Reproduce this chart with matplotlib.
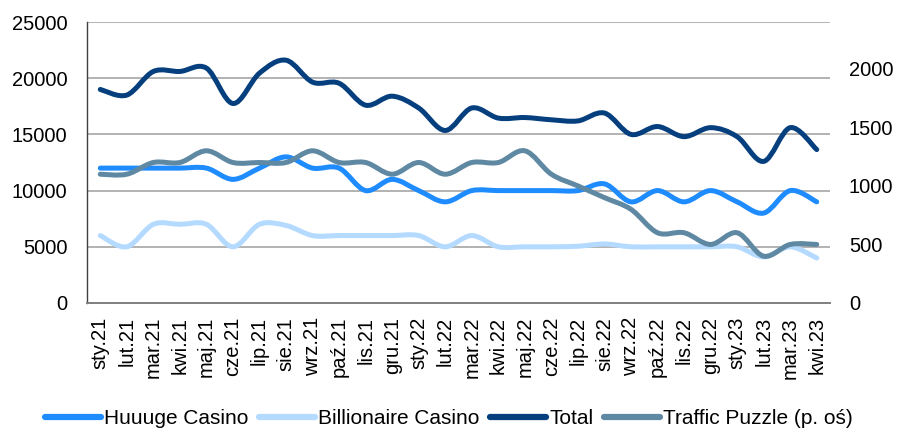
import matplotlib
matplotlib.use("Agg")
import matplotlib.pyplot as plt
import numpy as np
from matplotlib.path import Path
from matplotlib.patches import PathPatch
from matplotlib.lines import Line2D

plt.rcParams['font.family'] = ['Liberation Sans', 'DejaVu Sans']

months = ["sty.21", "lut.21", "mar.21", "kwi.21", "maj.21", "cze.21", "lip.21", "sie.21",
          "wrz.21", "paź.21", "lis.21", "gru.21", "sty.22", "lut.22", "mar.22", "kwi.22",
          "maj.22", "cze.22", "lip.22", "sie.22", "wrz.22", "paź.22", "lis.22", "gru.22",
          "sty.23", "lut.23", "mar.23", "kwi.23"]

huuuge = [12000, 12000, 12000, 12000, 12000, 11000, 12000, 13000,
          12000, 12000, 10000, 11000, 10000, 9000, 10000, 10000,
          10000, 10000, 10000, 10600, 9000, 10000, 9000, 10000,
          9000, 8000, 10000, 9000]

billionaire = [6000, 5000, 7000, 7000, 7000, 5000, 7000, 6900,
               6000, 6000, 6000, 6000, 6000, 5000, 6000, 5000,
               5000, 5000, 5050, 5250, 5000, 5000, 5000, 5000,
               5000, 4100, 5000, 4000]

total = [19000, 18500, 20600, 20600, 20900, 17750, 20450, 21600,
         19650, 19550, 17600, 18400, 17350, 15350, 17350, 16450,
         16500, 16300, 16200, 16900, 15000, 15700, 14800, 15600,
         14800, 12600, 15600, 13650]

traffic = [1100, 1100, 1200, 1200, 1300, 1200, 1200, 1200,
           1300, 1200, 1200, 1100, 1200, 1100, 1200, 1200,
           1300, 1100, 1000, 900, 800, 600, 600, 500,
           600, 400, 500, 500]

labels = ["Huuuge Casino", "Billionaire Casino", "Total", "Traffic Puzzle (p. oś)"]
colors = ["#1E8CFF", "#B4DAFF", "#053F7E", "#5F88A3"]

fig = plt.figure(figsize=(8.97, 4.30), dpi=100)
ax = fig.add_axes([87/897, 1-303/430, (830-87)/897, (303-22)/430])
ax2 = ax.twinx()


def smooth_path(x, y):
    x = np.asarray(x, float)
    y = np.asarray(y, float)
    n = len(x)
    verts = [(x[0], y[0])]
    codes = [Path.MOVETO]
    for i in range(n - 1):
        p0 = np.array([x[max(i-1, 0)], y[max(i-1, 0)]])
        p1 = np.array([x[i], y[i]])
        p2 = np.array([x[i+1], y[i+1]])
        p3 = np.array([x[min(i+2, n-1)], y[min(i+2, n-1)]])
        c1 = p1 + (p2 - p0) / 6.0
        c2 = p2 - (p3 - p1) / 6.0
        verts += [tuple(c1), tuple(c2), tuple(p2)]
        codes += [Path.CURVE4] * 3
    return Path(verts, codes)


xs = np.arange(len(months))
lw = 3.6
for axis, data, col, z in [(ax, huuuge, colors[0], 3), (ax, billionaire, colors[1], 2),
                           (ax, total, colors[2], 4), (ax2, traffic, colors[3], 5)]:
    patch = PathPatch(smooth_path(xs, data), facecolor='none', edgecolor=col,
                      lw=lw, capstyle='round', joinstyle='round', zorder=z)
    axis.add_patch(patch)

ax.set_xlim(-0.5, len(months) - 0.5)
ax.set_ylim(0, 25000)
ax.set_yticks(range(0, 25001, 5000))
ax2.set_ylim(0, 2400)
ax2.set_yticks(range(0, 2001, 500))

ax.set_xticks(xs)
ax.set_xticklabels(months, rotation=90, fontsize=14.5)
ax.tick_params(axis='x', length=0, pad=10)
ax.tick_params(axis='y', length=0, pad=14, labelsize=14.5)
ax2.tick_params(axis='y', length=0, pad=13.5, labelsize=14.5)

ax.grid(axis='y', color='#A6A6A6', lw=1.2)
ax.set_axisbelow(True)
for a in (ax, ax2):
    a.spines['top'].set_visible(False)
    a.spines['right'].set_visible(False)
    a.spines['left'].set_visible(False)
ax.spines['left'].set_visible(True)
ax.spines['left'].set_color('#404040')
ax.spines['left'].set_linewidth(1.0)
ax.spines['bottom'].set_color('#808080')
ax.spines['bottom'].set_linewidth(1.4)
ax2.spines['bottom'].set_visible(False)

handles = [Line2D([], [], color=c, lw=4.5, solid_capstyle='round') for c in colors]
fig.legend(handles, labels, loc='center', bbox_to_anchor=(449/897, 1-419/430),
           ncol=4, frameon=False, fontsize=15, handlelength=2.7, handletextpad=0.15,
           columnspacing=0.5, borderpad=0)

fig.savefig("out.png", dpi=100)
